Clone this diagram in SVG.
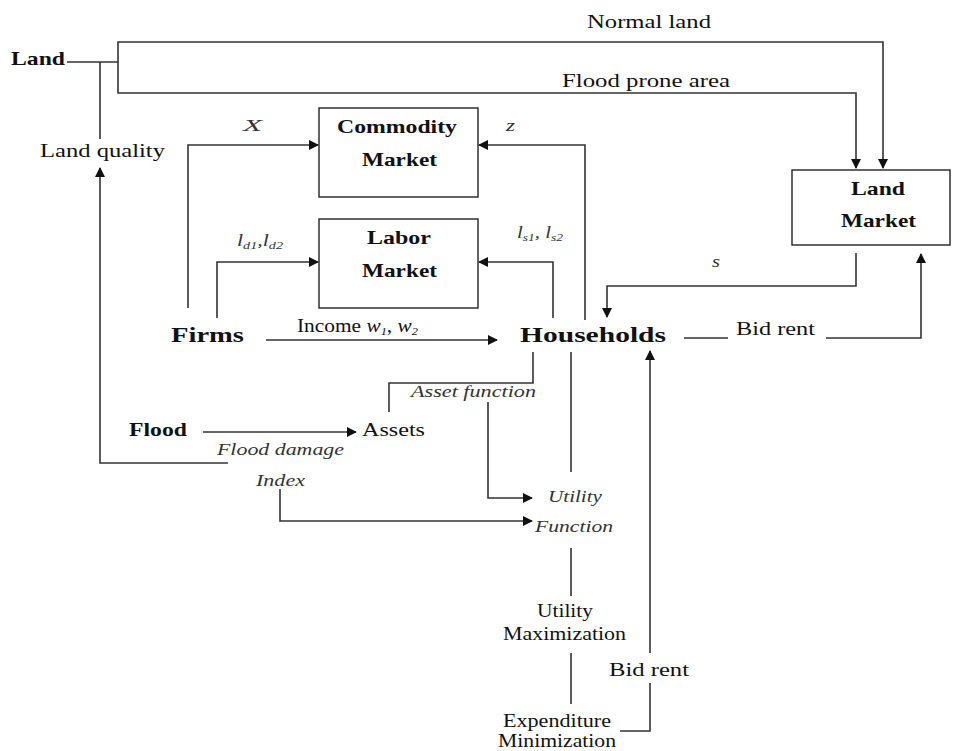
<svg xmlns="http://www.w3.org/2000/svg" width="953" height="751" viewBox="0 0 953 751">
<style>
text{font-family:"Liberation Serif","Times New Roman",serif;fill:#111;font-size:19px}
.b{font-weight:bold}
.big{font-weight:bold;font-size:21px}
.i{font-style:italic;fill:#333;font-size:17px}
.ln{fill:none;stroke:#333;stroke-width:1.6}
.box{fill:#fff;stroke:#222;stroke-width:1.4}
</style>
<defs>
<marker id="ah" markerWidth="10" markerHeight="10" refX="9" refY="5" orient="auto" markerUnits="userSpaceOnUse">
<path d="M0,0 L10,5 L0,10 z" fill="#111"/>
</marker>
</defs>
<rect width="953" height="751" fill="#fff"/>
<g id="connectors">
<path class="ln" d="M67,62 H118"/>
<path class="ln" d="M100,62 V139"/>
<path class="ln" d="M118,62 V42 H883 V168" marker-end="url(#ah)"/>
<path class="ln" d="M118,62 V93 H856 V168" marker-end="url(#ah)"/>
<path class="ln" d="M188,308 V145 H318" marker-end="url(#ah)"/>
<path class="ln" d="M585,320 V145 H479" marker-end="url(#ah)"/>
<path class="ln" d="M217,318 V262 H318" marker-end="url(#ah)"/>
<path class="ln" d="M553,318 V262 H479" marker-end="url(#ah)"/>
<path class="ln" d="M266,340 H497" marker-end="url(#ah)"/>
<path class="ln" d="M856,253 V286 H607 V317" marker-end="url(#ah)"/>
<path class="ln" d="M684,338 H728"/>
<path class="ln" d="M826,338 H921 V254" marker-end="url(#ah)"/>
<path class="ln" d="M533,352 V383 H389 V412"/>
<path class="ln" d="M488,402 V498 H532" marker-end="url(#ah)"/>
<path class="ln" d="M571,352 V472"/>
<path class="ln" d="M280,489 V521 H532" marker-end="url(#ah)"/>
<path class="ln" d="M203,432 H356" marker-end="url(#ah)"/>
<path class="ln" d="M228,463 H100 V168" marker-end="url(#ah)"/>
<path class="ln" d="M571,548 V596"/>
<path class="ln" d="M571,653 V704"/>
<path class="ln" d="M620,731 H650 V683"/>
<path class="ln" d="M650,653 V351" marker-end="url(#ah)"/>
</g>
<g id="land"><text class="b" x="11" y="65" textLength="54" lengthAdjust="spacingAndGlyphs">Land</text></g>
<g id="land-quality"><text x="40" y="157" textLength="125" lengthAdjust="spacingAndGlyphs">Land quality</text></g>
<g id="normal-land-label"><text x="587" y="28" textLength="124" lengthAdjust="spacingAndGlyphs">Normal land</text></g>
<g id="flood-prone-label"><text x="562" y="87" textLength="168" lengthAdjust="spacingAndGlyphs">Flood prone area</text></g>
<g id="commodity-market">
<rect class="box" x="319" y="108" width="159" height="89"/>
<text class="b" x="337" y="133" textLength="120" lengthAdjust="spacingAndGlyphs">Commodity</text>
<text class="b" x="362" y="166" textLength="75" lengthAdjust="spacingAndGlyphs">Market</text>
</g>
<g id="labor-market">
<rect class="box" x="319" y="219" width="159" height="89"/>
<text class="b" x="367" y="244" textLength="64" lengthAdjust="spacingAndGlyphs">Labor</text>
<text class="b" x="362" y="277" textLength="75" lengthAdjust="spacingAndGlyphs">Market</text>
</g>
<g id="land-market">
<rect class="box" x="792" y="170" width="158" height="75"/>
<text class="b" x="851" y="195" textLength="54" lengthAdjust="spacingAndGlyphs">Land</text>
<text class="b" x="841" y="227" textLength="75" lengthAdjust="spacingAndGlyphs">Market</text>
</g>
<g id="labels">
<text class="i" x="243" y="131" textLength="19" lengthAdjust="spacingAndGlyphs">X</text>
<text class="i" x="506" y="131" textLength="9" lengthAdjust="spacingAndGlyphs">z</text>
<text class="i" x="237" y="246" textLength="46" lengthAdjust="spacingAndGlyphs">l<tspan font-size="11" dy="3">d1</tspan><tspan dy="-3">,l</tspan><tspan font-size="11" dy="3">d2</tspan></text>
<text class="i" x="517" y="238" textLength="46" lengthAdjust="spacingAndGlyphs">l<tspan font-size="11" dy="3">s1</tspan><tspan dy="-3">, l</tspan><tspan font-size="11" dy="3">s2</tspan></text>
<text x="297" y="332" font-size="17" textLength="121" lengthAdjust="spacingAndGlyphs">Income <tspan font-style="italic">w</tspan><tspan font-style="italic" font-size="11" dy="3">1</tspan><tspan dy="-3">, </tspan><tspan font-style="italic">w</tspan><tspan font-style="italic" font-size="11" dy="3">2</tspan></text>
<text class="i" x="712" y="267" textLength="8" lengthAdjust="spacingAndGlyphs">s</text>
<text x="736" y="335" textLength="79" lengthAdjust="spacingAndGlyphs">Bid rent</text>
<text class="i" x="411" y="397" textLength="125" lengthAdjust="spacingAndGlyphs">Asset function</text>
<text class="i" x="217" y="455" textLength="127" lengthAdjust="spacingAndGlyphs">Flood damage</text>
<text class="i" x="256" y="486" textLength="49" lengthAdjust="spacingAndGlyphs">Index</text>
<text x="609" y="676" textLength="80" lengthAdjust="spacingAndGlyphs">Bid rent</text>
</g>
<g id="firms"><text class="big" x="171" y="342" textLength="73" lengthAdjust="spacingAndGlyphs">Firms</text></g>
<g id="households"><text class="big" x="520" y="342" textLength="146" lengthAdjust="spacingAndGlyphs">Households</text></g>
<g id="flood"><text class="b" x="129" y="436" textLength="58" lengthAdjust="spacingAndGlyphs">Flood</text></g>
<g id="assets"><text x="362" y="436" textLength="63" lengthAdjust="spacingAndGlyphs">Assets</text></g>
<g id="utility-function">
<text class="i" x="548" y="502" textLength="54" lengthAdjust="spacingAndGlyphs">Utility</text>
<text class="i" x="535" y="532" textLength="78" lengthAdjust="spacingAndGlyphs">Function</text>
</g>
<g id="utility-maximization">
<text x="537" y="617" textLength="56" lengthAdjust="spacingAndGlyphs">Utility</text>
<text x="503" y="640" textLength="123" lengthAdjust="spacingAndGlyphs">Maximization</text>
</g>
<g id="expenditure-minimization">
<text x="503" y="727" textLength="108" lengthAdjust="spacingAndGlyphs">Expenditure</text>
<text x="498" y="747" textLength="118" lengthAdjust="spacingAndGlyphs">Minimization</text>
</g>
</svg>
